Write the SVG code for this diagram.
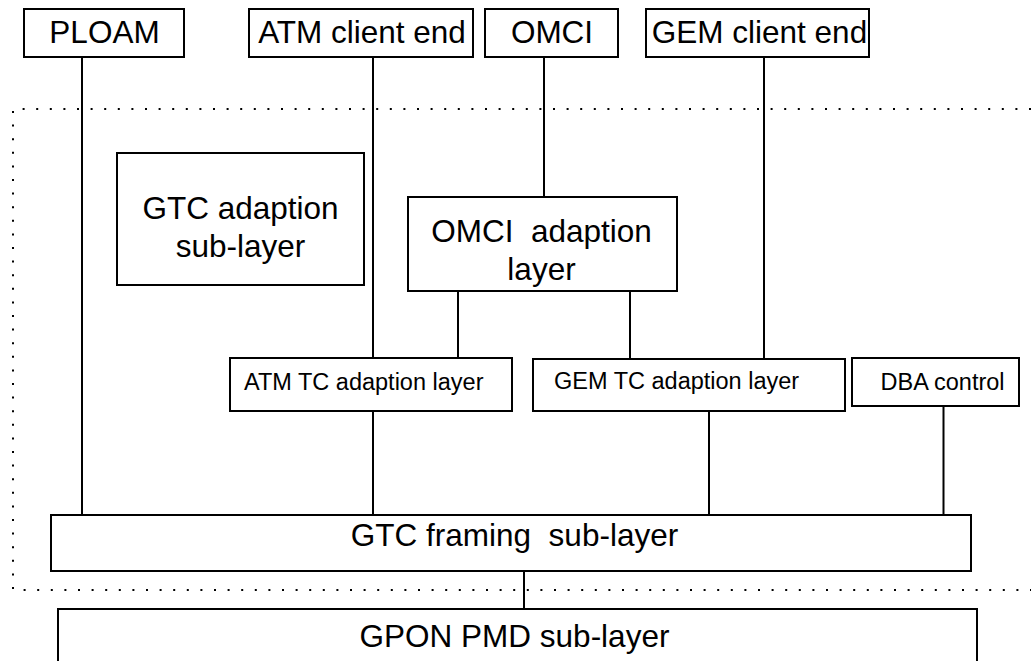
<svg xmlns="http://www.w3.org/2000/svg" width="1031" height="661" viewBox="0 0 1031 661">
<style>
.box{fill:#fff;stroke:#000;stroke-width:2}
.ln{stroke:#000;stroke-width:2;fill:none}
.dot{stroke:#000;stroke-width:2;fill:none;stroke-dasharray:2 11.6}
.big{font-family:"Liberation Sans",Arial,sans-serif;font-size:31.5px;fill:#000;text-anchor:middle;white-space:pre}
.sm{font-family:"Liberation Sans",Arial,sans-serif;font-size:23.5px;fill:#000;white-space:pre}
</style>
<rect width="1031" height="661" fill="#fff"/>
<g id="boundary">
<path class="dot" d="M1031,109 H13 V590 H1031"/>
</g>
<g id="connectors">
<line class="ln" x1="82" y1="57" x2="82" y2="515"/>
<line class="ln" x1="373" y1="57" x2="373" y2="358"/>
<line class="ln" x1="544" y1="57" x2="544" y2="197"/>
<line class="ln" x1="764" y1="57" x2="764" y2="359"/>
<line class="ln" x1="458" y1="291" x2="458" y2="358"/>
<line class="ln" x1="630" y1="291" x2="630" y2="359"/>
<line class="ln" x1="373" y1="406" x2="373" y2="515"/>
<line class="ln" x1="709" y1="405" x2="709" y2="515"/>
<line class="ln" x1="943.5" y1="406" x2="943.5" y2="515"/>
<line class="ln" x1="524" y1="571" x2="524" y2="609"/>
</g>
<g id="ploam">
<rect class="box" x="24" y="9" width="160" height="48"/>
<text class="big" x="104.5" y="43">PLOAM</text>
</g>
<g id="atm-client">
<rect class="box" x="249" y="9" width="224" height="48"/>
<text class="big" x="362" y="43">ATM client end</text>
</g>
<g id="omci">
<rect class="box" x="485" y="9" width="133" height="48"/>
<text class="big" x="552" y="43">OMCI</text>
</g>
<g id="gem-client">
<rect class="box" x="646" y="9" width="223" height="48"/>
<text class="big" x="759.5" y="43">GEM client end</text>
</g>
<g id="gtc-adaption">
<rect class="box" x="117" y="153" width="247" height="132"/>
<text class="big" x="240.5" y="219">GTC adaption</text>
<text class="big" x="240.5" y="257">sub-layer</text>
</g>
<g id="omci-adaption">
<rect class="box" x="408" y="197" width="269" height="94"/>
<text class="big" x="541.5" y="242">OMCI  adaption</text>
<text class="big" x="541.5" y="280">layer</text>
</g>
<g id="atm-tc">
<rect class="box" x="230" y="358" width="282" height="53"/>
<text class="sm" x="244" y="390">ATM TC adaption layer</text>
</g>
<g id="gem-tc">
<rect class="box" x="533" y="359" width="312" height="52"/>
<text class="sm" x="554" y="389">GEM TC adaption layer</text>
</g>
<g id="dba">
<rect class="box" x="852" y="358" width="167" height="48"/>
<text class="sm" x="880.5" y="390">DBA control</text>
</g>
<g id="gtc-framing">
<rect class="box" x="51" y="515" width="920" height="56"/>
<text class="big" x="514.5" y="546">GTC framing  sub-layer</text>
</g>
<g id="gpon-pmd">
<rect class="box" x="58" y="609" width="919" height="70"/>
<text class="big" x="514.5" y="647">GPON PMD sub-layer</text>
</g>
</svg>
